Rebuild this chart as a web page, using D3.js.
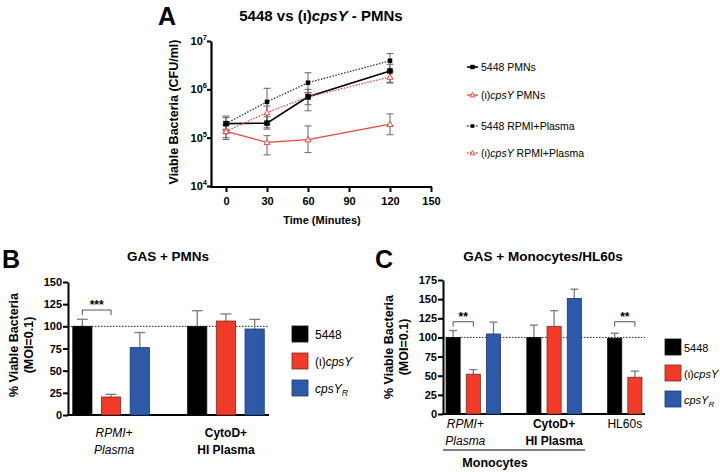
<!DOCTYPE html>
<html>
<head>
<meta charset="utf-8">
<script src="https://cdn.jsdelivr.net/npm/d3@7"></script>
<style>
  body { margin: 0; background: #fff; }
  svg { font-family: "Liberation Sans", Arial, Helvetica, sans-serif; }
</style>
</head>
<body>
<script>
// ---------- Panel A data (CFU/ml) ----------
var times = [0, 30, 60, 120];
var xTicksA = [0, 30, 60, 90, 120, 150];
var yDecadesA = [4, 5, 6, 7];

var pmn5448   = [1.95e5, 2.0e5, 7.0e5, 2.4e6];
var pmn5448Lo = [1.5e5, 1.5e5, 3.6e5, 1.4e6];
var pmn5448Hi = [2.6e5, 2.7e5, 1.0e6, 3.3e6];

var pmnCps    = [1.35e5, 8.0e4, 9.1e4, 1.9e5];
var pmnCpsLo  = [9.2e4, 4.4e4, 4.9e4, 1.15e5];
var pmnCpsHi  = [1.9e5, 1.1e5, 1.75e5, 3.1e5];

var rpmi5448   = [1.95e5, 5.5e5, 1.37e6, 3.9e6];
var rpmi5448Lo = [1.4e5, 1.6e5, 8.5e5, 2.4e6];
var rpmi5448Hi = [2.8e5, 1.05e6, 2.2e6, 5.5e6];

var rpmiCps   = [1.35e5, 3.3e5, 7.0e5, 1.8e6];
var rpmiCpsLo = [1.0e5, 1.9e5, 4.8e5, 1.35e6];
var rpmiCpsHi = [1.8e5, 4.5e5, 8.5e5, 2.3e6];

// ---------- Panel B / C data (% viable) ----------
var strains = ["5448", "cpsY", "cpsYR"];
var strainColors = ["#000000", "#f23a28", "#2c5aa8"];
var strainStroke = ["#111111", "#7a2a20", "#1d3a6e"];

var groupsB = ["RPMI+ Plasma", "CytoD+ HI Plasma"];
var valuesB = [[100, 20.3, 76], [100, 106, 97]];
var semB    = [[8, 3, 17], [17.6, 8, 10.8]];
var yTicksB = [0, 25, 50, 75, 100, 125, 150];

var groupsC = ["RPMI+ Plasma", "CytoD+ HI Plasma", "HL60s"];
var valuesC = [[100, 52, 104.5], [100, 114.5, 151], [99, 48]];
var semC    = [[9, 6, 15.5], [16, 20.5, 12], [6.5, 8]];
var yTicksC = [0, 25, 50, 75, 100, 125, 150, 175];

var svg = d3.select("body").append("svg")
    .attr("width", 720)
    .attr("height", 472);

// small helper for the (ι)cpsY style labels
function strainLabel(sel, key) {
  if (key === "5448") {
    sel.append("tspan").text("5448");
  } else if (key === "cpsY") {
    sel.append("tspan").text("(ι)");
    sel.append("tspan").attr("font-style", "italic").text("cpsY");
  } else {
    sel.append("tspan").attr("font-style", "italic").text("cpsY");
    sel.append("tspan").attr("font-style", "italic").attr("font-size", "0.72em").attr("dy", 3).text("R");
  }
}

/* ================= Panel A ================= */
(function () {
  var g = svg.append("g");
  var x = d3.scaleLinear().domain([0, 150]).range([226, 431]);
  var y = d3.scaleLog().domain([1e4, 1e7]).range([186, 41]);
  var axisX = 211, axisY = 187;

  g.append("text").attr("x", 158).attr("y", 25)
    .attr("font-size", 25).attr("font-weight", "bold").text("A");

  var t = g.append("text").attr("x", 321).attr("y", 21).attr("text-anchor", "middle")
    .attr("font-size", 15).attr("font-weight", "bold");
  t.append("tspan").text("5448 vs (ι)");
  t.append("tspan").attr("font-style", "italic").text("cpsY");
  t.append("tspan").text(" - PMNs");

  // y axis
  var ya = g.append("g").attr("transform", "translate(" + axisX + ",0)")
    .call(d3.axisLeft(y).tickValues(yDecadesA.map(function (d) { return Math.pow(10, d); }))
      .tickFormat("").tickSize(4).tickSizeOuter(0));
  ya.select(".domain").attr("stroke-width", 2.2);
  ya.selectAll(".tick line").attr("stroke-width", 2);

  yDecadesA.forEach(function (e) {
    var lab = g.append("text").attr("x", axisX - 4).attr("y", y(Math.pow(10, e)) + 4)
      .attr("text-anchor", "end").attr("font-size", 11).attr("font-weight", "bold");
    lab.append("tspan").text("10");
    lab.append("tspan").attr("font-size", 7.5).attr("dy", -5).text(e);
  });

  // x axis
  g.append("line").attr("x1", axisX - 1).attr("x2", x(150) + 1)
    .attr("y1", axisY).attr("y2", axisY).attr("stroke", "#000").attr("stroke-width", 2.2);
  var xa = g.append("g").attr("transform", "translate(0," + axisY + ")")
    .call(d3.axisBottom(x).tickValues(xTicksA).tickSize(5).tickSizeOuter(0));
  xa.select(".domain").remove();
  xa.selectAll(".tick line").attr("stroke-width", 2);
  xa.selectAll(".tick text").attr("font-size", 11).attr("font-weight", "bold")
    .attr("font-family", "Liberation Sans, Arial, sans-serif").attr("dy", "0.9em");

  g.append("text").attr("x", 322).attr("y", 224).attr("text-anchor", "middle")
    .attr("font-size", 11).attr("font-weight", "bold").text("Time (Minutes)");

  g.append("text").attr("transform", "translate(178,112) rotate(-90)")
    .attr("text-anchor", "middle").attr("font-size", 12.5).attr("font-weight", "bold")
    .text("Viable Bacteria (CFU/ml)");

  var series = [
    { v: pmn5448, lo: pmn5448Lo, hi: pmn5448Hi, color: "#000", dash: null, w: 1.6, marker: "square", size: 5.5, key: "5448", tail: " PMNs" },
    { v: pmnCps, lo: pmnCpsLo, hi: pmnCpsHi, color: "#e8453c", dash: null, w: 1.3, marker: "tri", size: 6, key: "cpsY", tail: " PMNs" },
    { v: rpmi5448, lo: rpmi5448Lo, hi: rpmi5448Hi, color: "#333", dash: "1.5,1.5", w: 1.3, marker: "square", size: 4.5, key: "5448", tail: " RPMI+Plasma" },
    { v: rpmiCps, lo: rpmiCpsLo, hi: rpmiCpsHi, color: "#e8453c", dash: "1.5,1.5", w: 1.3, marker: "tri", size: 6, key: "cpsY", tail: " RPMI+Plasma" }
  ];

  // error bars
  series.forEach(function (s) {
    times.forEach(function (tm, i) {
      var cx = x(tm);
      g.append("line").attr("x1", cx).attr("x2", cx).attr("y1", y(s.lo[i])).attr("y2", y(s.hi[i]))
        .attr("stroke", "#666").attr("stroke-width", 1);
      [s.lo[i], s.hi[i]].forEach(function (b) {
        g.append("line").attr("x1", cx - 3.5).attr("x2", cx + 3.5).attr("y1", y(b)).attr("y2", y(b))
          .attr("stroke", "#666").attr("stroke-width", 1);
      });
    });
  });

  var line = d3.line()
    .x(function (d) { return x(d[0]); })
    .y(function (d) { return y(d[1]); });

  function marker(sel, s, cx, cy) {
    if (s.marker === "square") {
      sel.append("rect").attr("x", cx - s.size / 2).attr("y", cy - s.size / 2)
        .attr("width", s.size).attr("height", s.size).attr("fill", "#000");
    } else {
      var r = s.size / 2;
      sel.append("path")
        .attr("d", "M" + cx + "," + (cy - r) + "L" + (cx + r) + "," + (cy + r * 0.75) + "L" + (cx - r) + "," + (cy + r * 0.75) + "Z")
        .attr("fill", "#fff").attr("stroke", s.color).attr("stroke-width", 1);
    }
  }

  series.forEach(function (s) {
    g.append("path").datum(times.map(function (tm, i) { return [tm, s.v[i]]; }))
      .attr("d", line).attr("fill", "none").attr("stroke", s.color)
      .attr("stroke-width", s.w).attr("stroke-dasharray", s.dash);
  });
  series.slice().reverse().forEach(function (s) {
    times.forEach(function (tm, i) { marker(g, s, x(tm), y(s.v[i])); });
  });

  // legend
  var legY = [67, 95, 126, 153];
  series.forEach(function (s, i) {
    var ly = legY[i];
    g.append("line").attr("x1", 467).attr("x2", 478).attr("y1", ly).attr("y2", ly)
      .attr("stroke", s.color).attr("stroke-width", s.w).attr("stroke-dasharray", s.dash);
    marker(g, Object.assign({}, s, { size: s.size * 0.8 }), 472.5, ly);
    var lt = g.append("text").attr("x", 481).attr("y", ly + 4).attr("font-size", 10.5);
    strainLabel(lt, s.key);
    lt.append("tspan").text(s.tail);
  });
})();

/* ================= Bar panels ================= */
function barPanel(p) {
  var g = svg.append("g");

  var slots = [];
  p.values.forEach(function (vals, gi) {
    if (gi > 0) slots.push("gap" + gi);
    vals.forEach(function (v, si) { slots.push(gi + "_" + si); });
  });

  var x = d3.scaleBand().domain(slots).range([p.left, p.right])
    .paddingInner(p.pad).paddingOuter(p.pad / 2);
  var y = d3.scaleLinear().domain([0, p.max]).range([p.bottom, p.top]);
  var bw = x.bandwidth();

  g.append("text").attr("x", p.letterX).attr("y", p.letterY)
    .attr("font-size", 25).attr("font-weight", "bold").text(p.letter);
  g.append("text").attr("x", p.titleX).attr("y", 261).attr("text-anchor", "middle")
    .attr("font-size", 13.5).attr("font-weight", "bold").text(p.title);

  // y axis
  var ya = g.append("g").attr("transform", "translate(" + p.left + ",0)")
    .call(d3.axisLeft(y).tickValues(p.ticks).tickSize(5).tickSizeOuter(0));
  ya.select(".domain").attr("stroke-width", 2);
  ya.selectAll(".tick line").attr("stroke-width", 2);
  ya.selectAll(".tick text").attr("font-size", 11).attr("font-weight", "bold")
    .attr("font-family", "Liberation Sans, Arial, sans-serif").attr("x", -6);

  g.append("line").attr("x1", p.left - 1).attr("x2", p.right).attr("y1", p.bottom).attr("y2", p.bottom)
    .attr("stroke", "#000").attr("stroke-width", 2);

  var yl = g.append("text").attr("transform", "translate(" + p.yLabelX + "," + p.yLabelY + ") rotate(-90)")
    .attr("text-anchor", "middle").attr("font-size", 12.5).attr("font-weight", "bold");
  yl.append("tspan").attr("x", 0).attr("y", 0).text("% Viable Bacteria");
  yl.append("tspan").attr("x", 0).attr("y", 14.5).text("(MOI=0.1)");

  // 100% reference line
  g.append("line").attr("x1", p.left).attr("x2", p.right).attr("y1", y(100)).attr("y2", y(100))
    .attr("stroke", "#000").attr("stroke-width", 0.9).attr("stroke-dasharray", "1.5,1.5");

  p.values.forEach(function (vals, gi) {
    vals.forEach(function (v, si) {
      var bx = x(gi + "_" + si);
      var top = v + p.sem[gi][si];
      var cx = bx + bw / 2;
      g.append("line").attr("x1", cx).attr("x2", cx).attr("y1", y(v)).attr("y2", y(top))
        .attr("stroke", "#7a7a7a").attr("stroke-width", 1.3);
      g.append("line").attr("x1", cx - bw * 0.28).attr("x2", cx + bw * 0.28).attr("y1", y(top)).attr("y2", y(top))
        .attr("stroke", "#7a7a7a").attr("stroke-width", 1.3);
      g.append("rect").attr("x", bx).attr("y", y(v)).attr("width", bw).attr("height", p.bottom - y(v))
        .attr("fill", strainColors[si]).attr("stroke", strainStroke[si]).attr("stroke-width", 0.8);
    });
  });

  // significance brackets
  p.sig.forEach(function (s) {
    var xa = x(s.g + "_0") + bw / 2, xb = x(s.g + "_1") + bw / 2, yy = y(s.at);
    g.append("path").attr("d", "M" + xa + "," + (yy + 5) + "V" + yy + "H" + xb + "V" + (yy + 5))
      .attr("fill", "none").attr("stroke", "#555").attr("stroke-width", 1);
    g.append("text").attr("x", (xa + xb) / 2).attr("y", yy - 1).attr("text-anchor", "middle")
      .attr("font-size", 12).attr("font-weight", "bold").text(s.label);
  });

  // category labels
  p.cats.forEach(function (c, gi) {
    var n = p.values[gi].length;
    var cx = (x(gi + "_0") + x(gi + "_" + (n - 1)) + bw) / 2 + (c.dx || 0);
    c.lines.forEach(function (ln, li) {
      g.append("text").attr("x", cx).attr("y", p.catY + li * p.catGap).attr("text-anchor", "middle")
        .attr("font-size", 12).attr("font-weight", c.bold ? "bold" : "normal")
        .attr("font-style", c.italic ? "italic" : "normal").text(ln);
    });
  });

  // legend
  strains.forEach(function (k, i) {
    var ly = p.legY[i];
    g.append("rect").attr("x", p.legX).attr("y", ly - 8).attr("width", 16).attr("height", 16)
      .attr("fill", strainColors[i]).attr("stroke", strainStroke[i]).attr("stroke-width", 0.8);
    var lt = g.append("text").attr("x", p.legX + p.legGap).attr("y", ly + 4.5).attr("font-size", p.legFont);
    strainLabel(lt, k);
  });

  return { g: g, x: x, y: y };
}

barPanel({
  letter: "B", letterX: 2, letterY: 268, title: "GAS + PMNs", titleX: 168,
  left: 68, right: 269, top: 282, bottom: 415, max: 150, pad: 0.33,
  ticks: yTicksB, values: valuesB, sem: semB,
  yLabelX: 18, yLabelY: 345,
  sig: [{ g: 0, at: 118.4, label: "***" }],
  cats: [{ lines: ["RPMI+", "Plasma"], italic: true, dx: 3 }, { lines: ["CytoD+", "HI Plasma"], bold: true }],
  catY: 437, catGap: 17,
  legX: 292, legY: [334, 361, 388], legGap: 23, legFont: 12
});

var pc = barPanel({
  letter: "C", letterX: 375, letterY: 268, title: "GAS + Monocytes/HL60s", titleX: 543,
  left: 443, right: 645, top: 280, bottom: 414, max: 175, pad: 0.3,
  ticks: yTicksC, values: valuesC, sem: semC,
  yLabelX: 393, yLabelY: 347,
  sig: [{ g: 0, at: 120.5, label: "**" }, { g: 2, at: 120.5, label: "**" }],
  cats: [{ lines: ["RPMI+", "Plasma"], italic: true, dx: -8 }, { lines: ["CytoD+", "HI Plasma"], bold: true }, { lines: ["HL60s"] }],
  catY: 428, catGap: 17,
  legX: 665, legY: [347, 373, 399], legGap: 19, legFont: 11
});

// monocytes bracket under panel C
pc.g.append("line").attr("x1", 443).attr("x2", 585).attr("y1", 450).attr("y2", 450)
  .attr("stroke", "#000").attr("stroke-width", 1);
pc.g.append("text").attr("x", 495).attr("y", 467).attr("text-anchor", "middle")
  .attr("font-size", 12.5).attr("font-weight", "bold").text("Monocytes");
</script>
</body>
</html>
